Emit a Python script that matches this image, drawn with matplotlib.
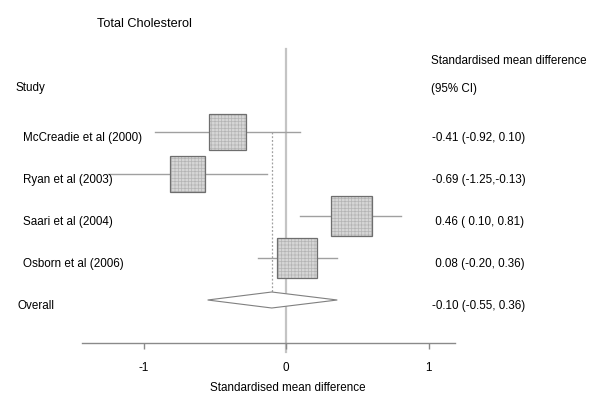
import matplotlib
matplotlib.use("Agg")
import matplotlib.pyplot as plt
from matplotlib.patches import Rectangle, Polygon
import numpy as np

plt.rcParams['font.family'] = ['Liberation Sans', 'DejaVu Sans']
plt.rcParams['hatch.color'] = '#b4b4b4'
plt.rcParams['hatch.linewidth'] = 0.5

title = "Total Cholesterol"
studies = ["McCreadie et al (2000)", "Ryan et al (2003)", "Saari et al (2004)", "Osborn et al (2006)"]
smd = [-0.41, -0.69, 0.46, 0.08]
lower = [-0.92, -1.25, 0.10, -0.20]
upper = [0.10, -0.13, 0.81, 0.36]
weights = [23.3, 20.9, 28.6, 27.2]
ci_text = ["-0.41 (-0.92, 0.10)", "-0.69 (-1.25,-0.13)", " 0.46 ( 0.10, 0.81)", " 0.08 (-0.20, 0.36)"]
overall_label = "Overall"
overall = -0.10
overall_lo = -0.55
overall_hi = 0.36
overall_text = "-0.10 (-0.55, 0.36)"
xticks = [-1, 0, 1]
xlabel = "Standardised mean difference"

FS = 8.4
W, H = 600, 406
fig = plt.figure(figsize=(W / 100, H / 100), dpi=100)

# axes in pixel layout
ax_left, ax_right, ax_top, ax_bot = 82, 455, 40, 344
ax = fig.add_axes([ax_left / W, 1 - ax_bot / H, (ax_right - ax_left) / W, (ax_bot - ax_top) / H])
px_per_x = 142.5
zero_px = 286
ax.set_xlim((ax_left - zero_px) / px_per_x, (ax_right - zero_px) / px_per_x)
row0_px, row_step = 133, 42
ax.set_ylim((ax_bot - row0_px) / row_step, (ax_top - row0_px) / row_step)

for s in ['top', 'left', 'right']:
    ax.spines[s].set_visible(False)
ax.spines['bottom'].set_color('#8a8a8a')
ax.spines['bottom'].set_linewidth(1.0)
ax.set_yticks([])
ax.set_xticks(xticks)
ax.set_xticklabels([str(t) for t in xticks], fontsize=FS)
ax.tick_params(axis='x', colors='#8a8a8a', labelcolor='black', length=4, width=1, pad=9)
ax.set_xlabel(xlabel, fontsize=FS)
ax.xaxis.set_label_coords((287.5 - ax_left) / (ax_right - ax_left), -(388 - ax_bot) / (ax_bot - ax_top))
ax.xaxis.label.set_va('center')

# zero line
ax.plot([0, 0], [(50 - row0_px) / row_step, (353 - row0_px) / row_step],
        color='#c4c4c4', lw=1.6, clip_on=False, zorder=1)

n = len(studies)
rows = np.arange(n)
total = sum(weights)
for i in range(n):
    ax.plot([lower[i], upper[i]], [rows[i], rows[i]], color='#a0a0a0', lw=1.0, zorder=2)
    side_px = np.sqrt(weights[i] / total * 5875.0)
    w = side_px / px_per_x
    h = side_px / row_step
    ax.add_patch(Rectangle((smd[i] - w / 2, rows[i] - h / 2), w, h,
                           facecolor='#d6d6d6', edgecolor='#b4b4b4', lw=0, hatch='+++++', zorder=3))
    ax.add_patch(Rectangle((smd[i] - w / 2, rows[i] - h / 2), w, h,
                           fill=False, edgecolor='#6e6e6e', lw=0.9, zorder=4))

ov_row = n
dh = 8 / row_step
ax.add_patch(Polygon([(overall_lo, ov_row), (overall, ov_row - dh), (overall_hi, ov_row), (overall, ov_row + dh)],
                     closed=True, facecolor='white', edgecolor='#808080', lw=0.8, zorder=3))
ax.plot([overall, overall], [rows[0], ov_row], color='#a0a0a0', lw=0.9, ls=(0, (1.5, 1.5)), zorder=2)

def ftext(px, py, s, size=FS, **kw):
    fig.text(px / W, 1 - py / H, s, fontsize=size, va='center', **kw)

ftext(97, 24, title, size=9.2)
ftext(16, 88, "Study")
ftext(431, 61, "Standardised mean difference")
ftext(431, 89, "(95% CI)")
for i in range(n):
    ypx = row0_px + row_step * rows[i] + 5
    ftext(23, ypx, studies[i])
    ftext(432, ypx, ci_text[i])
ypx = row0_px + row_step * ov_row + 5
ftext(17, ypx, overall_label)
ftext(432, ypx, overall_text)

fig.savefig("out.png", dpi=100, facecolor='white')
